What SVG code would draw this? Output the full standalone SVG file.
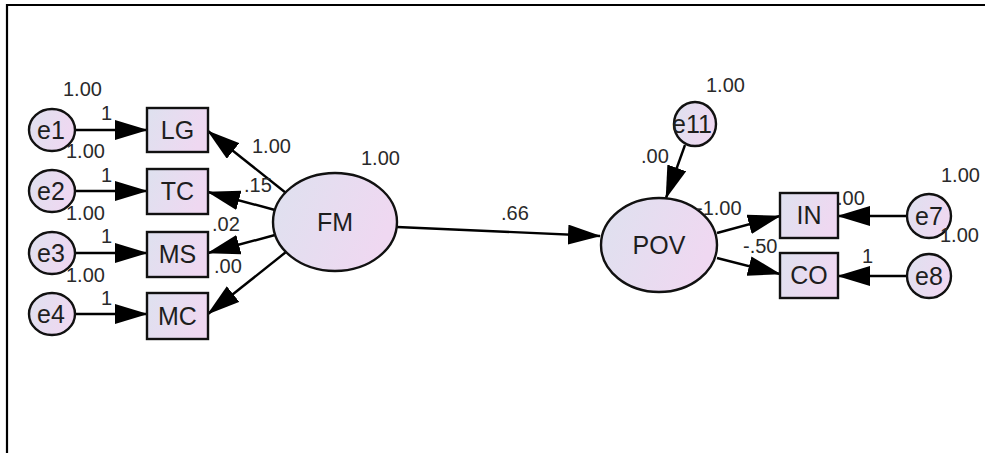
<svg xmlns="http://www.w3.org/2000/svg" width="985" height="453" viewBox="0 0 985 453">
<defs>
<linearGradient id="g" x1="0" y1="0" x2="1" y2="0.3">
<stop offset="0" stop-color="#dee1ef"/>
<stop offset="1" stop-color="#efd8f1"/>
</linearGradient>
<marker id="ah" markerUnits="userSpaceOnUse" markerWidth="33" markerHeight="20" refX="32" refY="10" orient="auto">
<path d="M0,0 L33,10 L0,20 Z" fill="#000"/>
</marker>
<style>
.n{fill:url(#g);stroke:#111;stroke-width:2.4}
.t{font-family:"Liberation Sans",Arial,sans-serif;font-size:25px;fill:#1e1e1e;text-anchor:middle}
.l{font-family:"Liberation Sans",Arial,sans-serif;font-size:20px;fill:#2a2a2a}
.c{stroke:#000;stroke-width:2.4;fill:none;marker-end:url(#ah)}
</style>
</defs>
<rect width="985" height="453" fill="#fff"/>
<path d="M7,453 V5 H985" fill="none" stroke="#000" stroke-width="2.2"/>
<g id="connectors">
<line class="c" x1="76" y1="130" x2="147" y2="130"/>
<line class="c" x1="76" y1="191" x2="147" y2="191"/>
<line class="c" x1="76" y1="253" x2="147" y2="253"/>
<line class="c" x1="76" y1="314" x2="147" y2="314"/>
<line class="c" x1="286" y1="193" x2="208" y2="131"/>
<line class="c" x1="275" y1="210" x2="208" y2="192"/>
<line class="c" x1="275" y1="235" x2="208" y2="253"/>
<line class="c" x1="286" y1="252" x2="208" y2="314"/>
<line class="c" x1="397" y1="227" x2="600" y2="236"/>
<line class="c" x1="685" y1="145" x2="666" y2="198"/>
<line class="c" x1="717" y1="233" x2="780" y2="216"/>
<line class="c" x1="717" y1="258" x2="780" y2="274"/>
<line class="c" x1="907" y1="216" x2="838" y2="216"/>
<line class="c" x1="907" y1="276" x2="838" y2="276"/>
</g>
<g id="e1"><ellipse class="n" cx="52" cy="130" rx="23" ry="21"/><text class="t" x="51" y="139">e1</text></g>
<g id="e2"><ellipse class="n" cx="52" cy="191" rx="23" ry="21"/><text class="t" x="51" y="200">e2</text></g>
<g id="e3"><ellipse class="n" cx="52" cy="253" rx="23" ry="21"/><text class="t" x="51" y="262">e3</text></g>
<g id="e4"><ellipse class="n" cx="52" cy="314" rx="23" ry="21"/><text class="t" x="51" y="323">e4</text></g>
<g id="LG"><rect class="n" x="147" y="108" width="61" height="44"/><text class="t" x="177.5" y="139">LG</text></g>
<g id="TC"><rect class="n" x="147" y="169" width="61" height="45"/><text class="t" x="177.5" y="200">TC</text></g>
<g id="MS"><rect class="n" x="147" y="232" width="61" height="45"/><text class="t" x="177.5" y="263">MS</text></g>
<g id="MC"><rect class="n" x="147" y="293" width="61" height="46"/><text class="t" x="177.5" y="325">MC</text></g>
<g id="FM"><ellipse class="n" cx="335" cy="222" rx="62" ry="49"/><text class="t" x="335" y="231">FM</text></g>
<g id="POV"><ellipse class="n" cx="659" cy="245" rx="58" ry="47"/><text class="t" x="659" y="254">POV</text></g>
<g id="e11"><ellipse class="n" cx="695" cy="124" rx="21" ry="22"/><text class="t" x="692" y="133">e11</text></g>
<g id="IN"><rect class="n" x="780" y="193" width="58" height="45"/><text class="t" x="809" y="224">IN</text></g>
<g id="CO"><rect class="n" x="780" y="253" width="58" height="45"/><text class="t" x="809" y="284">CO</text></g>
<g id="e7"><ellipse class="n" cx="929" cy="216" rx="22" ry="22"/><text class="t" x="929" y="225">e7</text></g>
<g id="e8"><ellipse class="n" cx="929" cy="276" rx="22" ry="22"/><text class="t" x="929" y="285">e8</text></g>
<g id="labels">
<text class="l" x="63" y="96">1.00</text>
<text class="l" x="101" y="120">1</text>
<text class="l" x="66" y="158">1.00</text>
<text class="l" x="101" y="182">1</text>
<text class="l" x="66" y="220">1.00</text>
<text class="l" x="101" y="243">1</text>
<text class="l" x="66" y="282">1.00</text>
<text class="l" x="101" y="305">1</text>
<text class="l" x="252" y="153">1.00</text>
<text class="l" x="244" y="192">.15</text>
<text class="l" x="212" y="231">.02</text>
<text class="l" x="214" y="273">.00</text>
<text class="l" x="361" y="165">1.00</text>
<text class="l" x="501" y="220">.66</text>
<text class="l" x="706" y="92">1.00</text>
<text class="l" x="641" y="163">.00</text>
<text class="l" x="696" y="215">-1.00</text>
<text class="l" x="743" y="253">-.50</text>
<text class="l" x="837" y="205">.00</text>
<text class="l" x="941" y="182">1.00</text>
<text class="l" x="940" y="242">1.00</text>
<text class="l" x="862" y="263">1</text>
</g>
</svg>
